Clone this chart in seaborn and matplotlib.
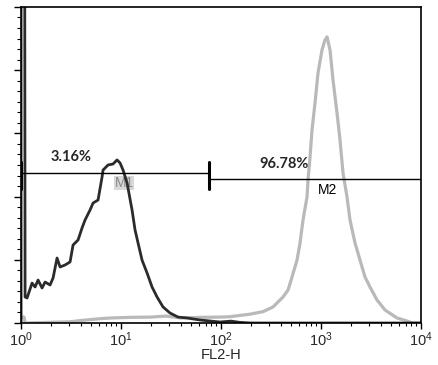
import numpy as np
import pandas as pd
import matplotlib
matplotlib.use("Agg")
import matplotlib.pyplot as plt
import matplotlib.ticker as mticker
import seaborn as sns

# histogram traces (x as log10 of FL2-H channel, y as counts)
black_log = [0.00, 0.00, 0.035, 0.04, 0.06, 0.11, 0.14, 0.17, 0.21, 0.24, 0.29, 0.32, 0.36,
             0.39, 0.44, 0.49, 0.52, 0.57, 0.61, 0.64, 0.69, 0.72, 0.77, 0.81, 0.82,
             0.87, 0.92, 0.96, 0.99, 1.02, 1.06, 1.11, 1.14, 1.17, 1.21, 1.26, 1.31,
             1.36, 1.42, 1.49, 1.57, 1.66, 1.79, 1.89, 1.99, 2.10, 2.19, 2.30, 4.00]
black_cnt = [0, 400, 400, 20.6, 19.8, 31.6, 28.5, 34.0, 27.7, 32.4, 30.1, 35.6, 51.4,
             44.3, 45.9, 48.3, 61.7, 65.7, 75.2, 81.5, 89.4, 94.9, 97.3, 115.5, 121.0,
             125.0, 125.8, 129.0, 126.6, 121.0, 110.8, 89.4, 73.6, 63.3, 49.8, 39.6, 28.5,
             20.6, 12.7, 7.9, 4.7, 4.0, 2.4, 1.6, 0.8, 1.5, 0.5, 0, 0]

gray_log = [0.00, 0.03, 0.04, 0.49, 0.60, 0.80, 0.90, 1.10, 1.30, 1.45, 1.60, 1.80, 2.00,
            2.09, 2.29, 2.42, 2.52, 2.62, 2.67, 2.71, 2.76, 2.79, 2.82, 2.86, 2.87,
            2.89, 2.91, 2.94, 2.97, 3.01, 3.04, 3.06, 3.09, 3.12, 3.16, 3.19, 3.22,
            3.26, 3.29, 3.34, 3.39, 3.44, 3.49, 3.56, 3.64, 3.76, 3.86, 3.92, 4.00]
gray_cnt = [4.7, 4.7, 0, 1.0, 2.0, 3.5, 4.0, 4.5, 4.7, 5.5, 4.0, 4.5, 4.7,
            5.0, 7.0, 9.0, 12.7, 20.6, 26.1, 36.4, 49.8, 63.3, 81.5, 99.7, 113.1,
            131.3, 152.7, 174.1, 197.8, 216.0, 223.9, 226.3, 216.0, 192.2, 166.1, 144.8, 118.7,
            99.7, 81.5, 63.3, 49.8, 36.4, 28.5, 18.2, 10.3, 4.0, 1.6, 0, 0]

# markers
m1_range = [1, 76]
m1_y = 118.7
m2_range = [76, 10000]
m2_y = 113.9
m1_pct = "3.16%"
m2_pct = "96.78%"

black = pd.DataFrame({"x": np.power(10.0, black_log), "y": black_cnt})
gray = pd.DataFrame({"x": np.power(10.0, gray_log), "y": gray_cnt})

sns.set_style("white")
plt.rcParams["font.family"] = ["Liberation Sans", "DejaVu Sans"]

fig = plt.figure(figsize=(4.39, 3.65), dpi=100)
ax = fig.add_axes([0.048, 0.115, 0.911, 0.866])

sns.lineplot(data=gray, x="x", y="y", ax=ax, color="#b9b9b9", lw=2.3,
             estimator=None, sort=False)
sns.lineplot(data=black, x="x", y="y", ax=ax, color="#2b2b2b", lw=2.0,
             estimator=None, sort=False)

# marker bars
ax.plot(m1_range, [m1_y, m1_y], color="black", lw=1.0)
ax.plot(m2_range, [m2_y, m2_y], color="black", lw=1.0)
ax.plot([m1_range[1], m1_range[1]], [106, 127.4], color="black", lw=2.2)
ax.plot([m1_range[0], m1_range[0]], [106, 127.4], color="black", lw=2.2)

ax.text(3.16, 131.3, m1_pct, ha="center", va="center", fontsize=10.5,
        fontweight="bold", family=["Lato", "DejaVu Sans"])
ax.text(427, 125.8, m2_pct, ha="center", va="center", fontsize=10.5,
        fontweight="bold", family=["Lato", "DejaVu Sans"])
# M1 label sits under the curve
ax.text(10.7, 110.8, "M1", ha="center", va="center", fontsize=10, color="#8a8a8a",
        bbox=dict(facecolor="#d8d8d8", edgecolor="none", pad=0.2), zorder=1)
ax.text(1175, 105.2, "M2", ha="center", va="center", fontsize=10, color="black")

ax.set_xscale("log")
ax.set_xlim(1, 10000)
ax.set_ylim(0, 250)

ax.xaxis.set_major_locator(mticker.LogLocator(base=10, numticks=10))
ax.xaxis.set_minor_locator(mticker.LogLocator(base=10, subs=np.arange(2, 10), numticks=10))
ax.yaxis.set_major_locator(mticker.MultipleLocator(50))
ax.yaxis.set_minor_locator(mticker.MultipleLocator(50 / 6))
ax.yaxis.set_major_formatter(mticker.NullFormatter())

ax.tick_params(axis="both", which="both", direction="out", color="black",
               bottom=True, left=True, top=False, right=False)
ax.tick_params(axis="x", which="major", length=4, width=1, labelsize=10.5, pad=1.5)
ax.tick_params(axis="x", which="minor", length=2, width=0.8)
ax.tick_params(axis="y", which="major", length=5, width=1)
ax.tick_params(axis="y", which="minor", length=3, width=0.8)

for s in ax.spines.values():
    s.set_color("black")
    s.set_linewidth(1.2)

ax.set_xlabel("FL2-H", fontsize=10.5, labelpad=-1)
ax.set_ylabel("")

fig.savefig("out.png", dpi=100)
